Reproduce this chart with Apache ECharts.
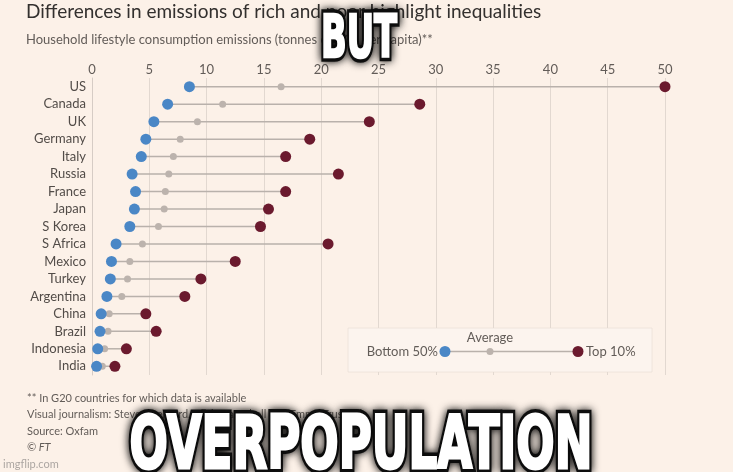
<!DOCTYPE html>
<html>
<head>
<meta charset="utf-8">
<script src="https://cdn.jsdelivr.net/npm/echarts@6/dist/echarts.min.js"></script>
<style>
html,body{margin:0;padding:0;background:#fcf1e8;}
#chart{width:733px;height:472px;}
</style>
</head>
<body>
<div id="chart"></div>
<script>
// ---- data ----
const countries = ['US','Canada','UK','Germany','Italy','Russia','France','Japan','S Korea','S Africa','Mexico','Turkey','Argentina','China','Brazil','Indonesia','India'];
const bottom50 = [8.5, 6.6, 5.4, 4.7, 4.3, 3.5, 3.8, 3.7, 3.3, 2.1, 1.7, 1.6, 1.3, 0.8, 0.7, 0.5, 0.4];
const average  = [16.5, 11.4, 9.2, 7.7, 7.1, 6.7, 6.4, 6.3, 5.8, 4.4, 3.3, 3.1, 2.6, 1.5, 1.4, 1.1, 0.9];
const top10    = [50.0, 28.6, 24.2, 19.0, 16.9, 21.5, 16.9, 15.4, 14.7, 20.6, 12.5, 9.5, 8.1, 4.7, 5.6, 3.0, 2.0];
const xTicks = { min: 0, max: 50, interval: 5 };

const titleText = 'Differences in emissions of rich and poor highlight inequalities';
const subtitleText = 'Household lifestyle consumption emissions (tonnes of CO\u2082 per capita)**';
const footerLines = [
  '** In G20 countries for which data is available',
  'Visual journalism: Steven Bernard, Chris Campbell and Emma Truswell',
  'Source: Oxfam'
];
const copyrightText = '\u00A9 FT';
const legendLabels = { avg: 'Average', bottom: 'Bottom 50%', top: 'Top 10%' };
const memeTop = 'BUT';
const memeBottom = 'OVERPOPULATION';

// ---- styles ----
const BLUE = '#4a87c6';
const RED = '#6b1a2e';
const GREY = '#bcb3ad';
const LINE = '#b9b1ab';
const TEXT = '#625c58';
const FONT = 'Lato';

const chart = echarts.init(document.getElementById('chart'));

const mctx = document.createElement('canvas').getContext('2d');
function fitScale(text, size, target) {
  mctx.font = 'bold ' + size + 'px "DejaVu Sans"';
  return target / mctx.measureText(text).width;
}

function memeText(text, cx, cy, size, width, fat) {
  const s = fitScale(text, size, width);
  const font = 'bold ' + size + 'px "DejaVu Sans"';
  return [
    { type: 'text', x: cx, y: cy, scaleX: s, z: 200, silent: true,
      style: { text, font, fill: '#000', stroke: '#111', lineWidth: fat + 7,
               align: 'center', verticalAlign: 'middle', textAlign: 'center', textVerticalAlign: 'middle',
               textShadowBlur: 8, textShadowColor: 'rgba(0,0,0,0.9)' } },
    { type: 'text', x: cx, y: cy, scaleX: s, z: 201, silent: true,
      style: { text, font, fill: '#fff', stroke: '#fff', lineWidth: fat,
               align: 'center', verticalAlign: 'middle', textAlign: 'center', textVerticalAlign: 'middle' } }
  ];
}

const lineData = countries.map((c, i) => [i, bottom50[i], top10[i]]);

function txt(x, y, text, font, fill, align) {
  return { type: 'text', x, y, z: 10, silent: true,
    style: { text, font, fill, align: align || 'left', textAlign: align || 'left', verticalAlign: 'middle', textVerticalAlign: 'middle' } };
}

const graphics = [
  txt(26, 12, titleText, '19px ' + FONT, '#33302e'),
  txt(26, 40, subtitleText, '13px ' + FONT, TEXT),
  txt(27, 398, footerLines[0], '11px ' + FONT, TEXT),
  txt(27, 414, footerLines[1], '11px ' + FONT, TEXT),
  txt(27, 431, footerLines[2], '11px ' + FONT, TEXT),
  txt(27, 447, copyrightText, 'italic 11px ' + FONT, TEXT),
  txt(3, 464, 'imgflip.com', '11px ' + FONT, '#aca6a2'),
  // legend box
  { type: 'rect', z: 20, shape: { x: 348, y: 328, width: 304, height: 44 }, style: { fill: '#fcf4ee', stroke: 'rgba(230,220,212,0.6)', lineWidth: 1 } },
  { type: 'line', z: 21, shape: { x1: 445, y1: 351.5, x2: 578, y2: 351.5 }, style: { stroke: LINE, lineWidth: 1.5 } },
  { type: 'circle', z: 22, shape: { cx: 490, cy: 351.5, r: 3.5 }, style: { fill: GREY } },
  { type: 'circle', z: 22, shape: { cx: 445, cy: 351.5, r: 5.5 }, style: { fill: BLUE } },
  { type: 'circle', z: 22, shape: { cx: 578, cy: 351.5, r: 5.5 }, style: { fill: RED } },
  Object.assign(txt(490, 338, legendLabels.avg, '13px ' + FONT, TEXT, 'center'), { z: 22 }),
  Object.assign(txt(438, 352, legendLabels.bottom, '13px ' + FONT, TEXT, 'right'), { z: 22 }),
  Object.assign(txt(586, 352, legendLabels.top, '13px ' + FONT, TEXT), { z: 22 })
].concat(memeText(memeTop, 359, 42, 58, 76, 2.5)).concat(memeText(memeBottom, 361, 449, 73, 463, 3));

const option = {
  backgroundColor: '#fcf1e8',
  animation: false,
  grid: { left: 92, right: 68, top: 78, height: 297, containLabel: false },
  xAxis: {
    type: 'value', position: 'top', min: xTicks.min, max: xTicks.max, interval: xTicks.interval,
    axisLine: { show: false }, axisTick: { show: false },
    axisLabel: { color: TEXT, fontFamily: FONT, fontSize: 13, margin: 2 },
    splitLine: { show: true, lineStyle: { color: '#e2d8d0', width: 1 } }
  },
  yAxis: {
    type: 'category', data: countries, inverse: true,
    axisLine: { show: true, lineStyle: { color: '#d6ccc5', width: 1 } },
    axisTick: { show: false },
    axisLabel: { color: '#524c48', fontFamily: FONT, fontSize: 13, margin: 6 },
    splitLine: { show: false }
  },
  series: [
    {
      type: 'custom', z: 2,
      data: lineData,
      encode: { y: 0, x: [1, 2] },
      renderItem: function (params, api) {
        const p1 = api.coord([api.value(1), api.value(0)]);
        const p2 = api.coord([api.value(2), api.value(0)]);
        return { type: 'line', shape: { x1: p1[0], y1: p1[1], x2: p2[0], y2: p2[1] }, style: { stroke: LINE, lineWidth: 1.5 } };
      }
    },
    { type: 'scatter', z: 3, data: average.map((v, i) => [v, countries[i]]), symbolSize: 7, itemStyle: { color: GREY, opacity: 1 } },
    { type: 'scatter', z: 4, data: bottom50.map((v, i) => [v, countries[i]]), symbolSize: 11, itemStyle: { color: BLUE, opacity: 1 } },
    { type: 'scatter', z: 4, data: top10.map((v, i) => [v, countries[i]]), symbolSize: 11, itemStyle: { color: RED, opacity: 1 } }
  ],
  graphic: graphics
};

chart.setOption(option);
</script>
</body>
</html>
